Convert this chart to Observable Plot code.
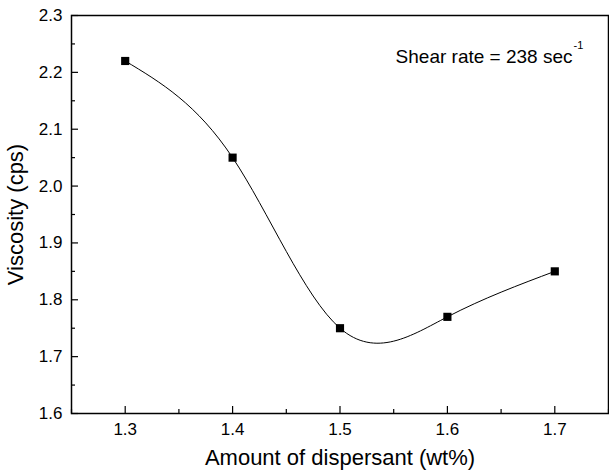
<!DOCTYPE html>
<html><head><meta charset="utf-8">
<script src="https://cdn.jsdelivr.net/npm/d3@7"></script>
<script src="https://cdn.jsdelivr.net/npm/@observablehq/plot@0.6"></script>
<style>body{margin:0;background:#fff}</style>
</head><body><div id="chart"></div>
<script>
const dispersant = [1.3, 1.4, 1.5, 1.6, 1.7];
const viscosity = [2.22, 2.05, 1.75, 1.77, 1.85];
const xTicks = [1.3, 1.4, 1.5, 1.6, 1.7];
const xMinor = [1.25, 1.35, 1.45, 1.55, 1.65, 1.75];
const yTicks = [1.6, 1.7, 1.8, 1.9, 2.0, 2.1, 2.2, 2.3];
const yMinor = [1.65, 1.75, 1.85, 1.95, 2.05, 2.15, 2.25];
const annotation = "Shear rate = 238 sec";
const annotationSup = "-1";

const data = dispersant.map((x, i) => ({x, y: viscosity[i]}));

const chart = Plot.plot({
  width: 609, height: 472,
  marginLeft: 71, marginRight: 1, marginTop: 15, marginBottom: 59,
  style: {fontFamily: "Liberation Sans, Arial, sans-serif", fontSize: "17px", color: "#000", background: "#fff"},
  x: {domain: [1.25, 1.75]},
  y: {domain: [1.6, 2.3]},
  marks: [
    Plot.frame({stroke: "#000", strokeWidth: 1.5}),
    Plot.axisX(xTicks, {tickSize: 0, tickPadding: 9, tickFormat: d3.format(".1f"), fontSize: 17,
      label: "Amount of dispersant (wt%)", labelAnchor: "center", labelArrow: "none", labelOffset: 51}),
    Plot.axisX(xTicks, {tickSize: -7, text: null, label: null, strokeWidth: 1.2}),
    Plot.axisX(xMinor, {tickSize: -4, text: null, label: null, strokeWidth: 1.2}),
    Plot.axisY(yTicks, {tickSize: 0, tickPadding: 9, tickFormat: d3.format(".1f"), fontSize: 17,
      label: "Viscosity (cps)", labelAnchor: "center", labelArrow: "none", labelOffset: 64}),
    Plot.axisY(yTicks, {tickSize: -7, text: null, label: null, strokeWidth: 1.2}),
    Plot.axisY(yMinor, {tickSize: -4, text: null, label: null, strokeWidth: 1.2}),
    Plot.line(data, {x: "x", y: "y", curve: "natural", stroke: "#000", strokeWidth: 1}),
    Plot.dot(data, {x: "x", y: "y", symbol: "square", r: 4.6, fill: "#000", stroke: "none"}),
    Plot.text([annotation], {text: d => d, frameAnchor: "top-right", textAnchor: "end", dx: -36, dy: 34, fontSize: 19}),
    Plot.text([annotationSup], {text: d => d, frameAnchor: "top-right", textAnchor: "start", dx: -35, dy: 26, fontSize: 11})
  ]
});
chart.querySelectorAll("[aria-label='x-axis label'] text, [aria-label='y-axis label'] text").forEach(t => t.setAttribute("font-size", "22"));
document.getElementById("chart").append(chart);
</script>
</body></html>
